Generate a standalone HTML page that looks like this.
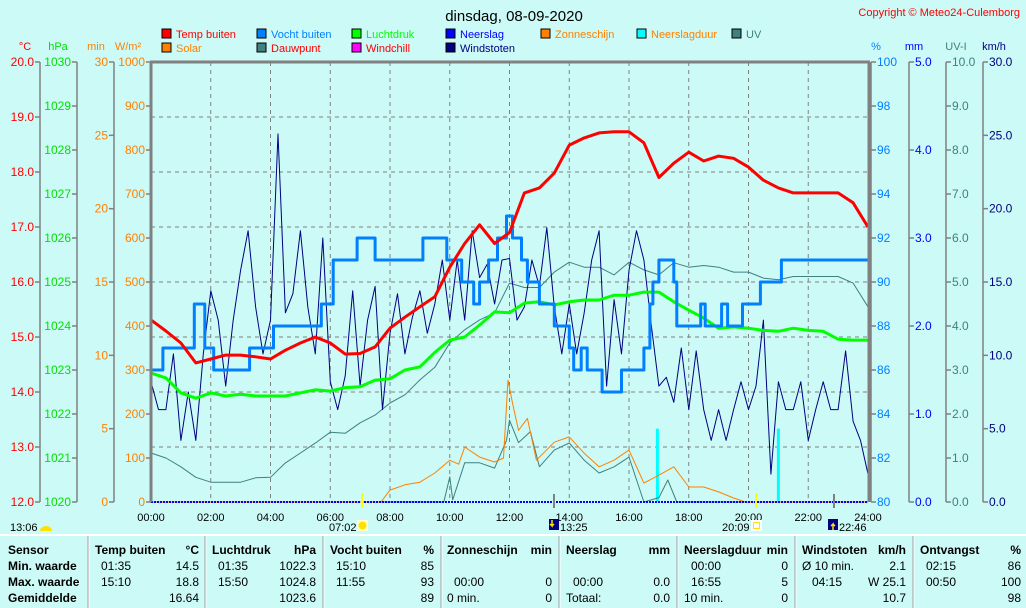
<!DOCTYPE html>
<html><head><meta charset="utf-8"><style>
html,body{margin:0;padding:0;background:#ccfaf6;}
svg{display:block;font-family:"Liberation Sans",sans-serif;}
</style></head><body>
<svg id="c" width="1026" height="608" viewBox="0 0 1026 608" xmlns="http://www.w3.org/2000/svg">
<rect width="1026" height="608" fill="#ccfaf6"/>
<text x="514" y="21" font-size="15" text-anchor="middle" fill="#000">dinsdag, 08-09-2020</text>
<text x="1020" y="16" font-size="11" text-anchor="end" fill="#ff0000">Copyright © Meteo24-Culemborg</text>
<g id="legend"></g>
<g id="axes"></g>
<g id="grid"></g>
<g id="series"></g>
<g id="frame"></g>
<g id="xaxis"></g>
<g id="table"></g>
</svg>
<script>
// ---- data ----
var halfHours = [0,0.5,1,1.5,2,2.5,3,3.5,4,4.5,5,5.5,6,6.5,7,7.5,8,8.5,9,9.5,10,10.5,11,11.5,12,12.5,13,13.5,14,14.5,15,15.5,16,16.5,17,17.5,18,18.5,19,19.5,20,20.5,21,21.5,22,22.5,23,23.5,24];
var tempBuiten = [15.31,15.11,14.89,14.53,14.6,14.67,14.67,14.64,14.6,14.76,14.89,15.0,14.89,14.69,14.7,14.82,15.16,15.36,15.55,15.73,16.27,16.7,17.04,16.7,16.9,17.62,17.71,17.98,18.49,18.62,18.71,18.73,18.73,18.53,17.9,18.16,18.36,18.2,18.29,18.25,18.09,17.85,17.71,17.62,17.62,17.62,17.62,17.44,17.0];
var dauwpunt = [12.89,12.8,12.64,12.45,12.36,12.36,12.36,12.44,12.45,12.71,12.89,13.07,13.27,13.25,13.44,13.58,13.8,13.95,14.22,14.45,14.89,15.13,15.31,15.44,15.98,15.9,15.9,16.18,16.36,16.27,16.27,16.13,16.36,16.22,16.13,16.35,16.27,16.3,16.27,16.18,16.18,16.07,16.04,16.1,16.1,16.1,16.1,15.98,15.55];
var luchtdruk = [1022.93,1022.82,1022.48,1022.36,1022.48,1022.41,1022.45,1022.41,1022.41,1022.41,1022.48,1022.55,1022.52,1022.6,1022.62,1022.77,1022.8,1023.0,1023.07,1023.4,1023.68,1023.75,1024.02,1024.32,1024.3,1024.52,1024.55,1024.48,1024.55,1024.59,1024.59,1024.7,1024.7,1024.77,1024.77,1024.55,1024.36,1024.18,1023.95,1023.98,1023.95,1023.9,1023.88,1023.95,1023.9,1023.88,1023.7,1023.68,1023.68];
var vochtTimes = [0,0.4,1.45,1.8,2.1,3.3,4.1,5.7,6.1,6.9,7.5,9.1,9.9,10.4,10.8,11.0,11.3,11.6,11.9,12.1,12.4,12.6,13.0,13.5,14.0,14.15,14.4,14.6,15.1,15.75,16.5,16.7,16.8,17.0,17.5,17.6,18.4,18.55,19.1,19.3,19.8,20.4,21.1,24];
var vochtValues = [86,87,89,87,86,87,88,89,91,92,91,92,91,90,89,90,91,92,93,92,91,90,89,88,87,86,87,86,85,86,87,89,90,91,90,88,89,88,89,88,89,90,91,91];
var solarTimes = [0,7.7,8.0,8.5,9.0,9.5,10.0,10.3,10.5,11.0,11.5,11.8,11.95,12.1,12.3,12.6,12.9,13.5,14.0,14.5,15.0,15.5,16.0,16.5,17.0,17.5,18.0,18.5,19.0,19.5,19.9,24];
var solarValues = [0,0,27,39,45,66,95,86,125,102,91,100,277,225,163,190,95,136,148,111,80,95,118,43,61,80,34,34,23,9,0,0];
var uvTimes = [0,9.8,10.0,10.1,10.5,11.0,11.5,11.9,12.0,12.3,12.7,13.0,13.5,14.0,14.5,15.0,15.5,16.0,16.5,17.0,17.3,17.6,24];
var uvValues = [0,0,0.57,0.05,0.89,0.89,0.77,1.4,1.86,1.35,1.6,0.8,1.18,1.34,0.95,0.66,0.8,1.02,0,0.1,0.5,0,0];
var neerslagduurTimes = [16.95,21.0];
var neerslagduurValues = [5,5];
var windstoten = [8.2,6.3,6.3,10.1,4.2,7.5,4.2,10.1,14.4,12.4,7.9,12.4,15.8,18.5,13.3,10.1,12.4,25.1,12.9,14.2,18.5,13.3,10.1,18,8.2,6.3,8.6,14.4,7.9,12.4,14.7,6.3,11.5,14.2,10.1,12.6,14.4,11.5,13.5,16.5,12.4,16.5,12.4,18.5,15.3,16.2,13.5,16.5,16.6,12.4,13.3,16.5,14.7,18.7,13.3,10.1,13.5,10.1,12.9,16.5,18.5,7.9,13.8,10.1,15.8,18.5,16.5,12,7.9,8.5,6.8,10.5,6.3,10.3,6.3,4.2,6.3,4.2,6.3,8.2,6.3,7.9,12.4,1.9,8.2,6.3,6.3,8.2,4.2,6.3,8.2,6.3,6.3,10.3,5.5,4.2,1.9];
var xTickLabels = ["00:00","02:00","04:00","06:00","08:00","10:00","12:00","14:00","16:00","18:00","20:00","22:00","24:00"];
var tempTicks = ["20.0","19.0","18.0","17.0","16.0","15.0","14.0","13.0","12.0"];

// ---- geometry ----
var NS="http://www.w3.org/2000/svg";
var X0=151,X1=868,Y0=62,Y1=502;
function xs(h){return X0+(X1-X0)*h/24;}
function yTemp(t){return Y1-(t-12)/8*(Y1-Y0);}
function yHpa(p){return Y1-(p-1020)/10*(Y1-Y0);}
function yPct(v){return Y1-(v-80)/20*(Y1-Y0);}
function ySolar(v){return Y1-v/1000*(Y1-Y0);}
function yMin(v){return Y1-v/30*(Y1-Y0);}
function yUv(v){return Y1-v/10*(Y1-Y0);}
function yKmh(v){return Y1-v/30*(Y1-Y0);}
function mk(tag,attrs,parent){var e=document.createElementNS(NS,tag);for(var k in attrs)e.setAttribute(k,attrs[k]);parent.appendChild(e);return e;}
function txt(parent,x,y,s,size,fill,anchor,weight){var e=mk('text',{x:x,y:y,'font-size':size,fill:fill,'text-anchor':anchor||'start'},parent);if(weight)e.setAttribute('font-weight',weight);e.textContent=s;return e;}

// legend
var lg=document.getElementById('legend');
var legendItems=[
 [162,38,'#ff0000','#ff0000','Temp buiten','legend-temp-buiten'],
 [257,38,'#0080ff','#0080ff','Vocht buiten','legend-vocht-buiten'],
 [352,38,'#00ff00','#00ff00','Luchtdruk','legend-luchtdruk'],
 [446,38,'#0000ff','#0000ff','Neerslag','legend-neerslag'],
 [541,38,'#ff8000','#ff8000','Zonneschijn','legend-zonneschijn'],
 [637,38,'#00ffff','#ff8000','Neerslagduur','legend-neerslagduur'],
 [732,38,'#408080','#408080','UV','legend-uv'],
 [162,52,'#ff8000','#ff8000','Solar','legend-solar'],
 [257,52,'#408080','#ff0000','Dauwpunt','legend-dauwpunt'],
 [352,52,'#ff00ff','#ff0000','Windchill','legend-windchill'],
 [446,52,'#000080','#000080','Windstoten','legend-windstoten']];
legendItems.forEach(function(it){
 var g=mk('g',{},lg);
 
 
 mk('rect',{x:it[0],y:it[1]-9,width:9,height:9,fill:it[2],stroke:'#000','stroke-width':1},g);
 txt(g,it[0]+14,it[1],it[4],11,it[3]);
});

// axes
var ax=document.getElementById('axes');
function axis(name,lineX,labels,yf,vals,color,side,unit,unitX){
 var g=mk('g',{},ax);
 
 
 if(lineX!==X0&&lineX!==X1+2) mk('line',{x1:lineX,y1:Y0,x2:lineX,y2:Y1,stroke:'#808080','stroke-width':1.5},g);
 vals.forEach(function(v,i){var y=yf(v);
  if(side==='L'){mk('line',{x1:lineX-5,y1:y,x2:lineX,y2:y,stroke:'#808080','stroke-width':1.5},g);txt(g,lineX-6,y+4,labels[i],12,color,'end');}
  else{mk('line',{x1:lineX,y1:y,x2:lineX+5,y2:y,stroke:'#808080','stroke-width':1.5},g);txt(g,lineX+6,y+4,labels[i],12,color,'start');}
 });
 txt(g,unitX,50,unit,11,color,'middle');
}
var tv=[20,19,18,17,16,15,14,13,12];
axis('y-axis-temp',40,tempTicks,yTemp,tv,'#ff0000','L','°C',25);
var hv=[1030,1029,1028,1027,1026,1025,1024,1023,1022,1021,1020];
axis('y-axis-hpa',77,hv.map(String),yHpa,hv,'#00e000','L','hPa',58);
var mv=[30,25,20,15,10,5,0];
axis('y-axis-min',114,mv.map(String),yMin,mv,'#ff8000','L','min',96);
var sv=[1000,900,800,700,600,500,400,300,200,100,0];
axis('y-axis-solar',151,sv.map(String),ySolar,sv,'#ff8000','L','W/m²',128);
var pv=[100,98,96,94,92,90,88,86,84,82,80];
axis('y-axis-pct',871,pv.map(String),yPct,pv,'#0080ff','R','%',876);
var mmv=[5,4,3,2,1,0];
axis('y-axis-mm',909,mmv.map(function(v){return v.toFixed(1);}),function(v){return Y1-v/5*(Y1-Y0);},mmv,'#0000ff','R','mm',914);
var uvt=[10,9,8,7,6,5,4,3,2,1,0];
axis('y-axis-uv',946,uvt.map(function(v){return v.toFixed(1);}),yUv,uvt,'#408080','R','UV-I',956);
var kv=[30,25,20,15,10,5,0];
axis('y-axis-kmh',983,kv.map(function(v){return v.toFixed(1);}),yKmh,kv,'#000080','R','km/h',994);

// grid
var gr=document.getElementById('grid');
for(var h=2;h<24;h+=2){var l=mk('line',{x1:xs(h),y1:Y0,x2:xs(h),y2:Y1,stroke:'#808080','stroke-width':1,'stroke-dasharray':'4,4'},gr);}
for(var t=13;t<20;t++){var l2=mk('line',{x1:X0,y1:yTemp(t),x2:X1,y2:yTemp(t),stroke:'#808080','stroke-width':1,'stroke-dasharray':'4,4'},gr);}

// series
var se=document.getElementById('series');
function pline(name,xsArr,ysArr,color,w){var p=xsArr.map(function(x,i){return x.toFixed(1)+','+ysArr[i].toFixed(1);}).join(' ');
 var e=mk('polyline',{points:p,fill:'none',stroke:color,'stroke-width':w,'stroke-linejoin':'round'},se);
 
 return e;}
function stepPts(times,vals,yf){var X=[],Y=[];for(var i=0;i<times.length;i++){if(i>0){X.push(xs(times[i]));Y.push(yf(vals[i-1]));}X.push(xs(times[i]));Y.push(yf(vals[i]));}return [X,Y];}
neerslagduurTimes.forEach(function(t,i){var r=mk('rect',{x:xs(t)-1.5,y:yMin(neerslagduurValues[i]),width:3,height:Y1-yMin(neerslagduurValues[i]),fill:'#00ffff'},se);
 
 });
pline('uv-line',uvTimes.map(xs),uvValues.map(yUv),'#408080',1);
pline('solar-line',solarTimes.map(xs),solarValues.map(ySolar),'#ff8000',1);
pline('dauwpunt-line',halfHours.map(xs),dauwpunt.map(yTemp),'#408080',1);
var wx=windstoten.map(function(v,i){return xs(i*0.25);});
pline('windstoten-line',wx,windstoten.map(yKmh),'#000080',1);
pline('luchtdruk-line',halfHours.map(xs),luchtdruk.map(yHpa),'#00ff00',3);
var sp=stepPts(vochtTimes,vochtValues,yPct);
pline('vocht-buiten-line',sp[0],sp[1],'#0080ff',3);
pline('temp-buiten-line',halfHours.map(xs),tempBuiten.map(yTemp),'#ff0000',3);
var nl=mk('line',{x1:X0,y1:Y1,x2:X1,y2:Y1,stroke:'#0000ff','stroke-width':2,'stroke-dasharray':'2,1'},se);


// frame
var fr=document.getElementById('frame');
mk('line',{x1:X0-1,y1:Y0,x2:X1+2,y2:Y0,stroke:'#808080','stroke-width':3},fr);
mk('line',{x1:X0,y1:Y0,x2:X0,y2:Y1,stroke:'#808080','stroke-width':3},fr);
mk('line',{x1:X1+1,y1:Y0,x2:X1+1,y2:Y1,stroke:'#808080','stroke-width':3},fr);

// x axis
var xa=document.getElementById('xaxis');
xTickLabels.forEach(function(s,i){var t=txt(xa,xs(i*2),521,s,11,'#000','middle');});
mk('line',{x1:362,y1:494,x2:362,y2:508,stroke:'#ffff00','stroke-width':2},xa);
mk('line',{x1:756,y1:494,x2:756,y2:508,stroke:'#ffff00','stroke-width':2},xa);
mk('line',{x1:554,y1:494,x2:554,y2:508,stroke:'#808080','stroke-width':2},xa);
mk('line',{x1:834,y1:494,x2:834,y2:508,stroke:'#808080','stroke-width':2},xa);
txt(xa,10,531,'13:06',11,'#000');
mk('path',{d:'M40,531 a6,5 0 0 1 12,0 z',fill:'#ffe000'},xa);
txt(xa,329,531,'07:02',11,'#000');
mk('rect',{x:357,y:520,width:11,height:11,fill:'#ffffcc'},xa);
mk('circle',{cx:362.5,cy:525.5,r:4,fill:'#ffe000'},xa);
mk('rect',{x:549,y:519,width:10,height:11,fill:'#000080'},xa);
mk('path',{d:'M552,520 l0,6 l-2,-2 m2,2 l2,-2',stroke:'#ffe000','stroke-width':1.5,fill:'none'},xa);
txt(xa,560,531,'13:25',11,'#000');
txt(xa,722,531,'20:09',11,'#000');
mk('rect',{x:751,y:520,width:11,height:11,fill:'#ffffff'},xa);
mk('rect',{x:753.5,y:522.5,width:6,height:6,fill:'none',stroke:'#ffe000'},xa);
mk('rect',{x:828,y:519,width:10,height:11,fill:'#000080'},xa);
mk('path',{d:'M833,530 l0,-6 l-2,2 m2,-2 l2,2',stroke:'#ffe000','stroke-width':1.5,fill:'none'},xa);
txt(xa,839,531,'22:46',11,'#000');

// table
var tb=document.getElementById('table');
mk('line',{x1:0,y1:535,x2:1026,y2:535,stroke:'#ffffff','stroke-width':2},tb);
[88,205,323,441,559,677,795,913].forEach(function(x){mk('line',{x1:x,y1:536,x2:x,y2:608,stroke:'#a0a0a0','stroke-width':1},tb);mk('line',{x1:x+1,y1:536,x2:x+1,y2:608,stroke:'#ffffff','stroke-width':1},tb);});
var rowsY=[554,570,586,602];
['Sensor','Min. waarde','Max. waarde','Gemiddelde'].forEach(function(s,i){txt(tb,8,rowsY[i],s,12,'#000','start','bold');});
var cols=[
 [95,199,'Temp buiten','°C',[['01:35','14.5'],['15:10','18.8'],['','16.64']]],
 [212,316,'Luchtdruk','hPa',[['01:35','1022.3'],['15:50','1024.8'],['','1023.6']]],
 [330,434,'Vocht buiten','%',[['15:10','85'],['11:55','93'],['','89']]],
 [447,552,'Zonneschijn','min',[['',''],[' 00:00','0'],['0 min.','0']]],
 [566,670,'Neerslag','mm',[['',''],[' 00:00','0.0'],['Totaal:','0.0']]],
 [684,788,'Neerslagduur','min',[[' 00:00','0'],[' 16:55','5'],['10 min.','0']]],
 [802,906,'Windstoten','km/h',[['Ø 10 min.','2.1'],['  04:15','W 25.1'],['','10.7']]],
 [920,1021,'Ontvangst','%',[['02:15','86'],['00:50','100'],['','98']]]];
cols.forEach(function(c){
 var g=mk('g',{},tb);
 
 
 txt(g,c[0],rowsY[0],c[2],12,'#000','start','bold');
 txt(g,c[1],rowsY[0],c[3],12,'#000','end','bold');
 c[4].forEach(function(r,i){
  var lead=r[0].match(/^ */)[0].length;var s=r[0].trim();
  var off=(/^\d\d:\d\d$/.test(s)&&lead===0)?6:(lead*3+ (/^\d\d:\d\d$/.test(s)?4:0));
  if(s)txt(g,c[0]+off,rowsY[i+1],s,12,'#000','start');
  if(r[1])txt(g,c[1],rowsY[i+1],r[1],12,'#000','end');
 });
});
</script>
</body></html>
